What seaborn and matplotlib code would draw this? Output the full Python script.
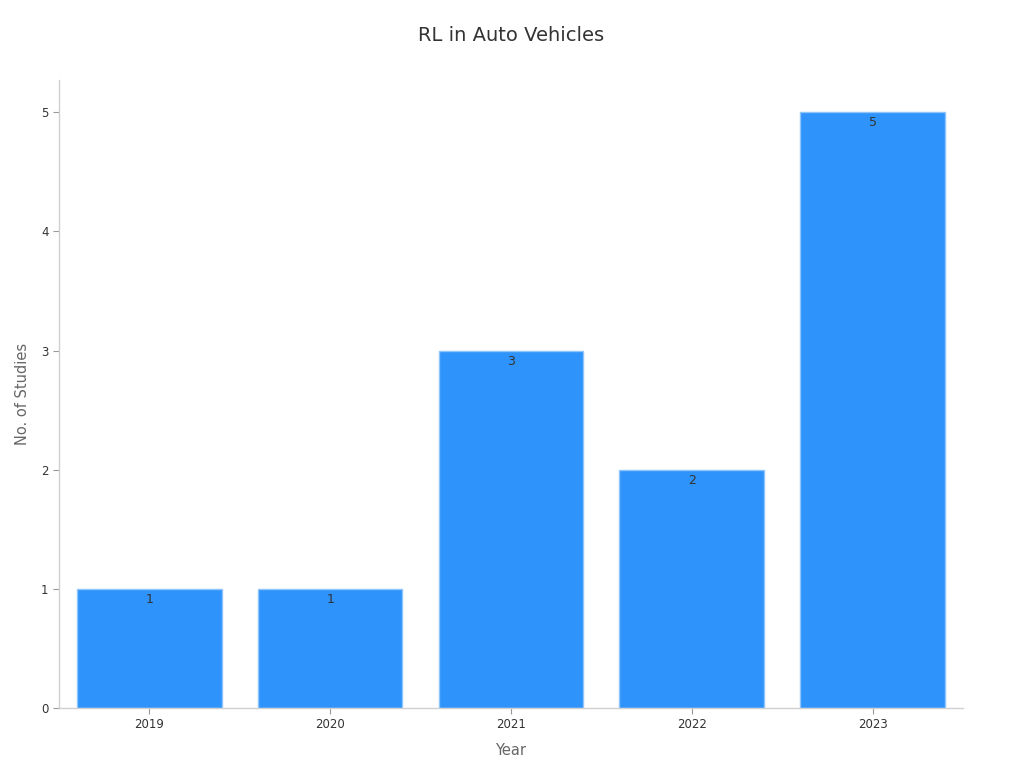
import matplotlib
matplotlib.use('Agg')
import pandas as pd
import seaborn as sns
import matplotlib.pyplot as plt

years = ['2019', '2020', '2021', '2022', '2023']
studies = [1, 1, 3, 2, 5]

df = pd.DataFrame({'Year': years, 'Studies': studies})

sns.set_style('white')
plt.rcParams['font.family'] = ['DejaVu Sans']

fig = plt.figure(figsize=(10.24, 7.68), dpi=100)
ax = fig.add_axes([0.0576, 0.0781, 0.8828, 0.8177])

sns.barplot(data=df, x='Year', y='Studies', color='#2E93FA', saturation=1,
            width=0.8, edgecolor='#8cc4fb', linewidth=1, ax=ax)

for i, v in enumerate(studies):
    ax.text(i, v - 0.035, str(v), ha='center', va='top', fontsize=9, color='#333333')

ax.set_xlim(-0.5, 4.5)
ax.set_ylim(0, 5.27)
ax.set_yticks([0, 1, 2, 3, 4, 5])
ax.set_title('RL in Auto Vehicles', fontsize=14, color='#333333', pad=28)
ax.set_xlabel('Year', fontsize=10.5, color='#666666', labelpad=8)
ax.set_ylabel('No. of Studies', fontsize=10.5, color='#666666', labelpad=8)
ax.tick_params(axis='both', labelsize=8.5, colors='#333333', length=4, color='#999999', left=True, bottom=True)
for s in ['top', 'right']:
    ax.spines[s].set_visible(False)
for s in ['left', 'bottom']:
    ax.spines[s].set_color('#d0d0d0')
    ax.spines[s].set_linewidth(1)

fig.savefig('out.png', dpi=100)
